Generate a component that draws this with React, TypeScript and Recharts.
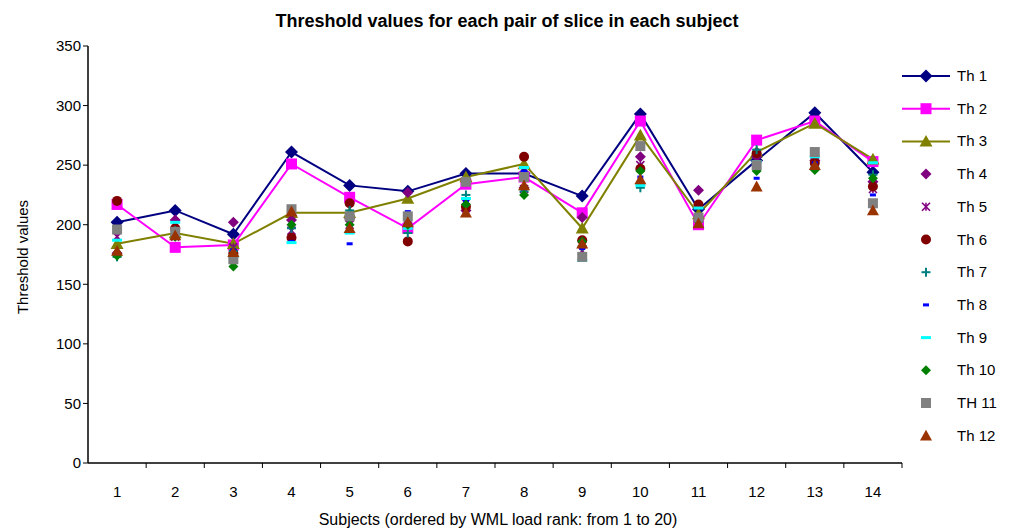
import { LineChart, Line, XAxis, YAxis } from 'recharts'

const subjects = [1, 2, 3, 4, 5, 6, 7, 8, 9, 10, 11, 12, 13, 14]
const yTicks = [0, 50, 100, 150, 200, 250, 300, 350]

const th1 = [202, 212, 192, 261, 233, 228, 243, 243, 224, 293, 213, 254, 294, 244]
const th2 = [217, 181, 183, 251, 223, 197, 234, 240, 210, 287, 200, 271, 287, 253]
const th3 = [184, 193, 184, 210, 210, 222, 240, 251, 197, 275, 209, 261, 285, 255]
const th4 = [176, 204, 202, 204, 205, 227, 212, 231, 206, 257, 229, 257, 254, 236]
const th5 = [190, 190, 181, 195, 200, 205, 218, 230, 178, 250, 205, 250, 253, 230]
const th6 = [220, 197, 176, 189, 218, 186, 215, 257, 187, 247, 217, 260, 252, 232]
const th7 = [173, 195, 178, 197, 212, 193, 225, 228, 182, 231, 205, 263, 248, 242]
const th8 = [177, 195, 179, 186, 184, 211, 220, 245, 180, 240, 207, 239, 252, 225]
const th9 = [187, 202, 173, 185, 193, 197, 222, 248, 170, 233, 214, 253, 257, 252]
const th10 = [174, 190, 165, 200, 200, 200, 217, 225, 186, 245, 203, 245, 246, 239]
const th11 = [196, 194, 171, 213, 207, 207, 236, 240, 173, 266, 206, 250, 261, 218]
const th12 = [178, 191, 177, 211, 197, 202, 210, 233, 184, 238, 201, 232, 250, 212]

type Shape = 'diamond' | 'square' | 'triangle' | 'circle' | 'plus' | 'star' | 'dash'

const series: { key: string; name: string; values: number[]; color: string; shape: Shape; size: number; line: boolean }[] = [
  { key: 'th1', name: 'Th 1', values: th1, color: '#000080', shape: 'diamond', size: 6.5, line: true },
  { key: 'th2', name: 'Th 2', values: th2, color: '#ff00ff', shape: 'square', size: 5.5, line: true },
  { key: 'th3', name: 'Th 3', values: th3, color: '#808000', shape: 'triangle', size: 6.5, line: true },
  { key: 'th4', name: 'Th 4', values: th4, color: '#800080', shape: 'diamond', size: 5.5, line: false },
  { key: 'th5', name: 'Th 5', values: th5, color: '#800080', shape: 'star', size: 4, line: false },
  { key: 'th6', name: 'Th 6', values: th6, color: '#800000', shape: 'circle', size: 5, line: false },
  { key: 'th7', name: 'Th 7', values: th7, color: '#008080', shape: 'plus', size: 4.5, line: false },
  { key: 'th8', name: 'Th 8', values: th8, color: '#0000ff', shape: 'dash', size: 3, line: false },
  { key: 'th9', name: 'Th 9', values: th9, color: '#00ffff', shape: 'dash', size: 5, line: false },
  { key: 'th10', name: 'Th 10', values: th10, color: '#008000', shape: 'diamond', size: 5, line: false },
  { key: 'th11', name: 'TH 11', values: th11, color: '#808080', shape: 'square', size: 5, line: false },
  { key: 'th12', name: 'Th 12', values: th12, color: '#993300', shape: 'triangle', size: 6, line: false },
]

const data = subjects.map((s, i) => {
  const row: Record<string, number> = { subject: s }
  series.forEach(sr => { row[sr.key] = sr.values[i] })
  return row
})

const FONT = '"Liberation Sans", Arial, sans-serif'
const PLOT_L = 88
const PLOT_R = 902
const HALF_BAND = (PLOT_R - PLOT_L) / subjects.length / 2

function Marker({ cx, cy, shape, color, size }: { cx: number; cy: number; shape: Shape; color: string; size: number }) {
  const s = size
  switch (shape) {
    case 'diamond':
      return <polygon points={`${cx},${cy - s} ${cx + s},${cy} ${cx},${cy + s} ${cx - s},${cy}`} fill={color} />
    case 'square':
      return <rect x={cx - s} y={cy - s} width={2 * s} height={2 * s} fill={color} />
    case 'triangle':
      return <polygon points={`${cx},${cy - s} ${cx + s},${cy + s * 0.8} ${cx - s},${cy + s * 0.8}`} fill={color} />
    case 'circle':
      return <circle cx={cx} cy={cy} r={s} fill={color} />
    case 'plus':
      return (
        <g stroke={color} strokeWidth={2}>
          <line x1={cx - s} y1={cy} x2={cx + s} y2={cy} />
          <line x1={cx} y1={cy - s} x2={cx} y2={cy + s} />
        </g>
      )
    case 'star':
      return (
        <g stroke={color} strokeWidth={1.6}>
          <line x1={cx - s} y1={cy - s} x2={cx + s} y2={cy + s} />
          <line x1={cx - s} y1={cy + s} x2={cx + s} y2={cy - s} />
          <line x1={cx} y1={cy - s} x2={cx} y2={cy + s} />
        </g>
      )
    case 'dash':
      return <rect x={cx - s} y={cy - 1.5} width={2 * s} height={3} fill={color} />
  }
}

function XTick(props: any) {
  const { x, y, payload } = props
  return (
    <g>
      <line x1={x + HALF_BAND} y1={y - 8} x2={x + HALF_BAND} y2={y - 3} stroke="#000" />
      <text x={x} y={y + 26} textAnchor="middle" fontSize={15} fontFamily={FONT} fill="#000">{payload.value}</text>
    </g>
  )
}

function LegendBox() {
  return (
    <svg width={120} height={400} style={{ position: 'absolute', left: 895, top: 60 }}>
      {series.map((sr, i) => {
        const y = 16 + i * 32.7
        return (
          <g key={sr.key}>
            {sr.line && <line x1={7} y1={y} x2={55} y2={y} stroke={sr.color} strokeWidth={2} />}
            <Marker cx={31} cy={y} shape={sr.shape} color={sr.color} size={sr.size} />
            <text x={62} y={y + 5} fontSize={15} fontFamily={FONT} fill="#000">{sr.name}</text>
          </g>
        )
      })}
    </svg>
  )
}

export default function App() {
  return (
    <div style={{ position: 'absolute', left: 0, top: 0, width: 1014, height: 530, background: '#fff', fontFamily: FONT }}>
      <LineChart width={1014} height={530} data={data} margin={{ top: 46, right: 1014 - PLOT_R, left: 28, bottom: 37 }}>
        <XAxis
          dataKey="subject"
          type="number"
          domain={[0.5, 14.5]}
          ticks={subjects}
          tickLine={false}
          axisLine={{ stroke: '#000', strokeWidth: 1.5 }}
          tick={<XTick />}
          height={30}
          interval={0}
        />
        <YAxis
          domain={[0, 350]}
          ticks={yTicks}
          width={60}
          tickSize={5}
          axisLine={{ stroke: '#000', strokeWidth: 1.5 }}
          tickLine={{ stroke: '#000' }}
          tick={{ fontSize: 15, fill: '#000', fontFamily: FONT }}
        />
        {series.map(sr => (
          <Line
            key={sr.key}
            dataKey={sr.key}
            name={sr.name}
            stroke={sr.line ? sr.color : 'none'}
            strokeWidth={2}
            isAnimationActive={false}
            activeDot={false}
            dot={(p: any) => (
              p.cx == null ? <g key={p.index} /> :
                <Marker key={p.index} cx={p.cx} cy={p.cy} shape={sr.shape} color={sr.color} size={sr.size} />
            )}
          />
        ))}
      </LineChart>
      <div style={{ position: 'absolute', left: 0, top: 11, width: 1014, textAlign: 'center', fontSize: 18, fontWeight: 'bold' }}>
        Threshold values for each pair of slice in each subject
      </div>
      <div style={{ position: 'absolute', left: 22, top: 257, transform: 'translate(-50%, -50%) rotate(-90deg)', fontSize: 15, whiteSpace: 'nowrap' }}>
        Threshold values
      </div>
      <div style={{ position: 'absolute', left: 0, top: 511, width: 996, textAlign: 'center', fontSize: 16 }}>
        Subjects (ordered by WML load rank: from 1 to 20)
      </div>
      <LegendBox />
    </div>
  )
}
